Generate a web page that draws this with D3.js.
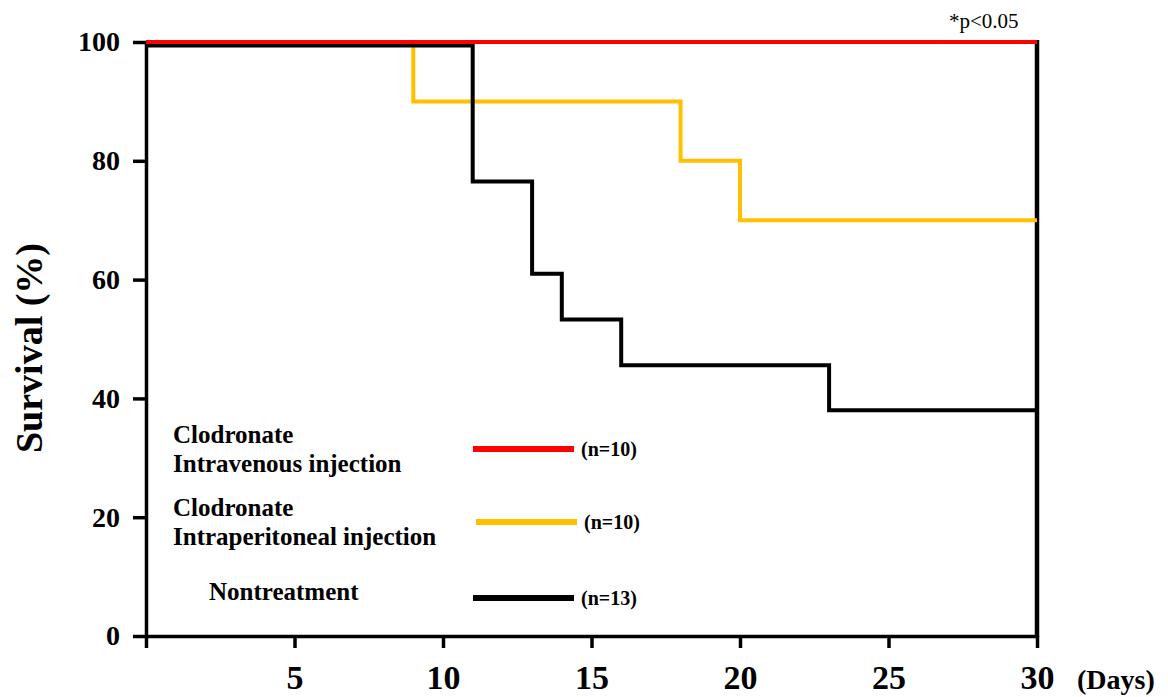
<!DOCTYPE html>
<html>
<head>
<meta charset="utf-8">
<script src="https://cdn.jsdelivr.net/npm/d3@7"></script>
<style>
	body { margin: 0; background: #fff; }
	svg { display: block; }
	svg text { font-family: "Liberation Serif", "Times New Roman", serif; }
</style>
</head>
<body>
<svg width="1168" height="697"></svg>
<script>
// survival steps: [day, percent]
var ivSteps = [[0, 100], [30, 100]];
var ipSteps = [[0, 100], [9, 90], [18, 80], [20, 70], [30, 70]];
var ntSteps = [[0, 99.4], [11, 76.5], [13, 61], [14, 53.3], [16, 45.6], [23, 38], [30, 38]];

var groupNames = ["Clodronate\nIntravenous injection", "Clodronate\nIntraperitoneal injection", "Nontreatment"];
var groupN = ["(n=10)", "(n=10)", "(n=13)"];
var groupColors = ["#ff0000", "#ffc000", "#000000"];

var xTicks = [0, 5, 10, 15, 20, 25, 30];
var yTicks = [0, 20, 40, 60, 80, 100];

var svg = d3.select("svg");

var x = d3.scaleLinear().domain([0, 30]).range([146, 1037]);
var y = d3.scaleLinear().domain([0, 100]).range([636, 42]);

var line = d3.line()
	.x(function(d) { return x(d[0]); })
	.y(function(d) { return y(d[1]); })
	.curve(d3.curveStepAfter);

// axes
var yAxis = svg.append("g")
	.attr("transform", "translate(" + x(0) + ",0)")
	.call(d3.axisLeft(y).tickValues(yTicks).tickSize(13).tickSizeOuter(0).tickPadding(13));
yAxis.selectAll("text")
	.style("font-family", "'Liberation Serif', serif")
	.style("font-size", "28px")
	.style("font-weight", "bold")
	.attr("fill", "#000");

var xAxis = svg.append("g")
	.attr("transform", "translate(0," + y(0) + ")")
	.call(d3.axisBottom(x).tickValues(xTicks).tickSize(12).tickSizeOuter(0).tickPadding(17)
		.tickFormat(function(d) { return d == 0 ? "" : d; }));
xAxis.selectAll("text")
	.style("font-family", "'Liberation Serif', serif")
	.style("font-size", "34px")
	.style("font-weight", "bold")
	.attr("fill", "#000");

svg.selectAll(".domain, .tick line")
	.attr("stroke", "#000")
	.attr("stroke-width", 3.5);

// right border
svg.append("line")
	.attr("x1", x(30)).attr("x2", x(30))
	.attr("y1", y(100) - 2).attr("y2", y(0) + 1)
	.attr("stroke", "#000")
	.attr("stroke-width", 4.5);

// curves
svg.append("path").datum(ipSteps)
	.attr("d", line)
	.attr("fill", "none")
	.attr("stroke", groupColors[1])
	.attr("stroke-width", 4);

svg.append("path").datum(ntSteps)
	.attr("d", line)
	.attr("fill", "none")
	.attr("stroke", groupColors[2])
	.attr("stroke-width", 4);

svg.append("path").datum(ivSteps)
	.attr("d", line)
	.attr("fill", "none")
	.attr("stroke", groupColors[0])
	.attr("stroke-width", 4);

// labels
svg.append("text")
	.attr("x", 1077).attr("y", 689)
	.style("font-size", "28px")
	.style("font-weight", "bold")
	.text("(Days)");

svg.append("text")
	.attr("transform", "translate(42,348) rotate(-90)")
	.attr("text-anchor", "middle")
	.style("font-size", "38px")
	.style("font-weight", "bold")
	.text("Survival (%)");

svg.append("text")
	.attr("x", 949).attr("y", 28)
	.style("font-size", "21px")
	.text("*p<0.05");

// legend
var legY = [449, 522, 598];
var legTextY = [[443, 472], [516, 545], [600]];
var legTextX = [173, 173, 209];
var legLineX = [[473, 574], [476, 577], [473, 574]];

groupNames.forEach(function(name, i) {
	var rows = name.split("\n");
	rows.forEach(function(r, j) {
		svg.append("text")
			.attr("x", legTextX[i]).attr("y", legTextY[i][j])
			.style("font-size", "25px")
			.style("font-weight", "bold")
			.text(r);
	});
	svg.append("line")
		.attr("x1", legLineX[i][0]).attr("x2", legLineX[i][1])
		.attr("y1", legY[i]).attr("y2", legY[i])
		.attr("stroke", groupColors[i])
		.attr("stroke-width", 6);
	svg.append("text")
		.attr("x", legLineX[i][1] + 7).attr("y", legY[i] + 7)
		.style("font-size", "20px")
		.style("font-weight", "bold")
		.text(groupN[i]);
});
</script>
</body>
</html>
